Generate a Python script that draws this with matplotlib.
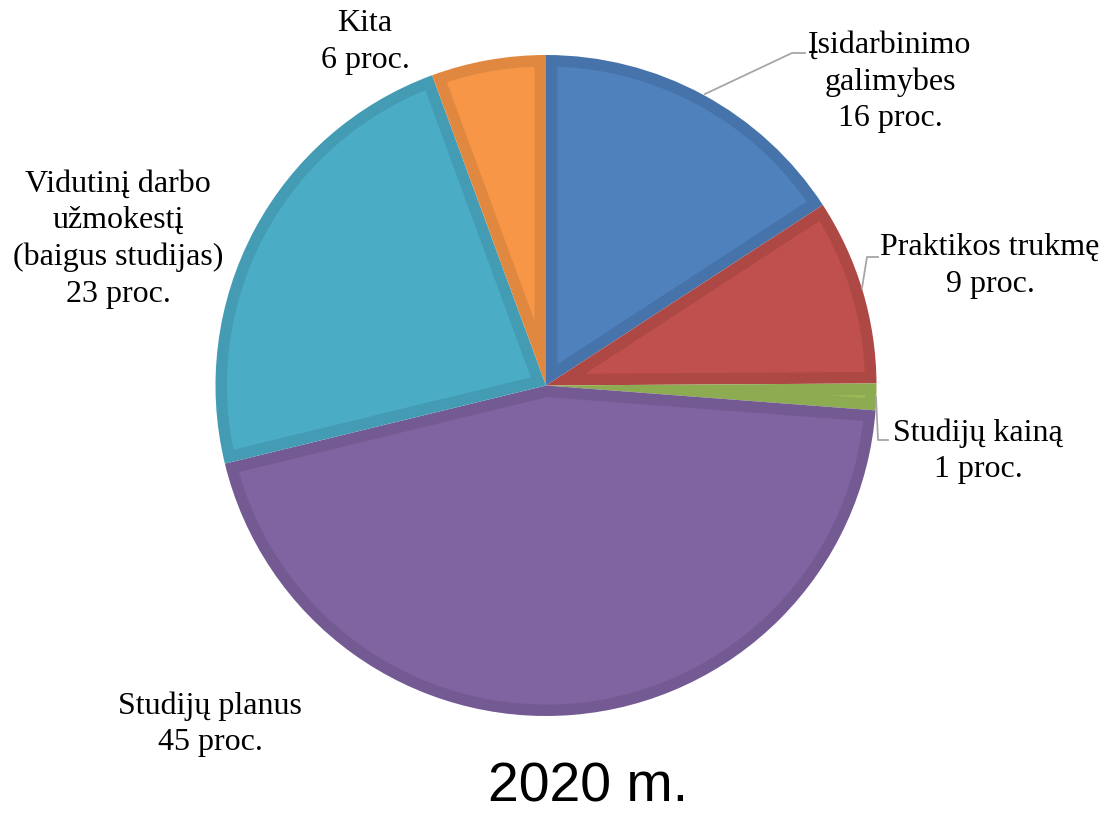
import matplotlib
matplotlib.use("Agg")
import matplotlib.pyplot as plt
import numpy as np
from matplotlib.patches import Polygon

# data (clockwise from 12 o'clock)
labels = ["Įsidarbinimo\ngalimybes", "Praktikos trukmę", "Studijų kainą",
          "Studijų planus", "Vidutinį darbo\nužmokestį\n(baigus studijas)", "Kita"]
shares = [15.8, 9.1, 1.3, 45.0, 23.2, 5.6]
pct_text = ["16", "9", "1", "45", "23", "6"]
title = "2020 m."

fills = ["#4F81BD", "#C0504D", "#9BBB59", "#8064A2", "#4BACC6", "#F79646"]
edges = ["#4673AA", "#AE4845", "#8DAB50", "#745A93", "#449CB4", "#E0883F"]

# layout in pixel units (y measured from top)
W, H = 1106, 815
cx, cy, r = 546, 385.5, 330.5
border = 11.5
label_pos = [(890, 82), (990, 266), (978, 451), (210, 724), (118, 239), (365, 42)]
leaders = [
    [(805, 53), (792, 53), (705, 94)],
    [(878, 257), (867, 257), (862, 288)],
    [(888, 440), (878, 440), (876, 397)],
]


def inner_poly(w, d):
    # region of the wedge that lies at least d inside its outline
    t1, t2 = np.radians(w.theta1), np.radians(w.theta2)
    half = (t2 - t1) / 2
    mid = t1 + half
    x0, y0 = w.center
    rr = w.r - d
    apex = d / np.sin(half)
    da = np.arcsin(d / rr)
    a1, a2 = t1 + da, t2 - da
    if a2 <= a1 or apex >= rr:
        return None
    arc = np.linspace(a1, a2, 200)
    pts = [(x0 + apex * np.cos(mid), y0 + apex * np.sin(mid))]
    pts += [(x0 + rr * np.cos(a), y0 + rr * np.sin(a)) for a in arc]
    return pts


fig = plt.figure(figsize=(W / 100, H / 100), dpi=100)
ax = fig.add_axes([0, 0, 1, 1])

wedges, _ = ax.pie(shares, colors=edges, startangle=90, counterclock=False,
                   center=(cx, H - cy), radius=r, frame=True,
                   wedgeprops=dict(linewidth=0))
for w, fc in zip(wedges, fills):
    pts = inner_poly(w, border)
    if pts is not None:
        ax.add_patch(Polygon(pts, closed=True, facecolor=fc, edgecolor="none"))

ax.set_xlim(0, W)
ax.set_ylim(0, H)
ax.set_aspect("equal")
ax.axis("off")

for i, (lab, pct) in enumerate(zip(labels, pct_text)):
    x, y = label_pos[i]
    ax.text(x, H - y, f"{lab}\n{pct} proc.", ha="center", va="center",
            family="Liberation Serif", fontsize=23, linespacing=1.34)

for pts in leaders:
    xs = [p[0] for p in pts]
    ys = [H - p[1] for p in pts]
    ax.plot(xs, ys, color="#A6A6A6", lw=1.3)

ax.text(588, H - 813, title, ha="center", va="bottom",
        family="Liberation Sans", fontsize=40)

fig.savefig("out.png", dpi=100)
